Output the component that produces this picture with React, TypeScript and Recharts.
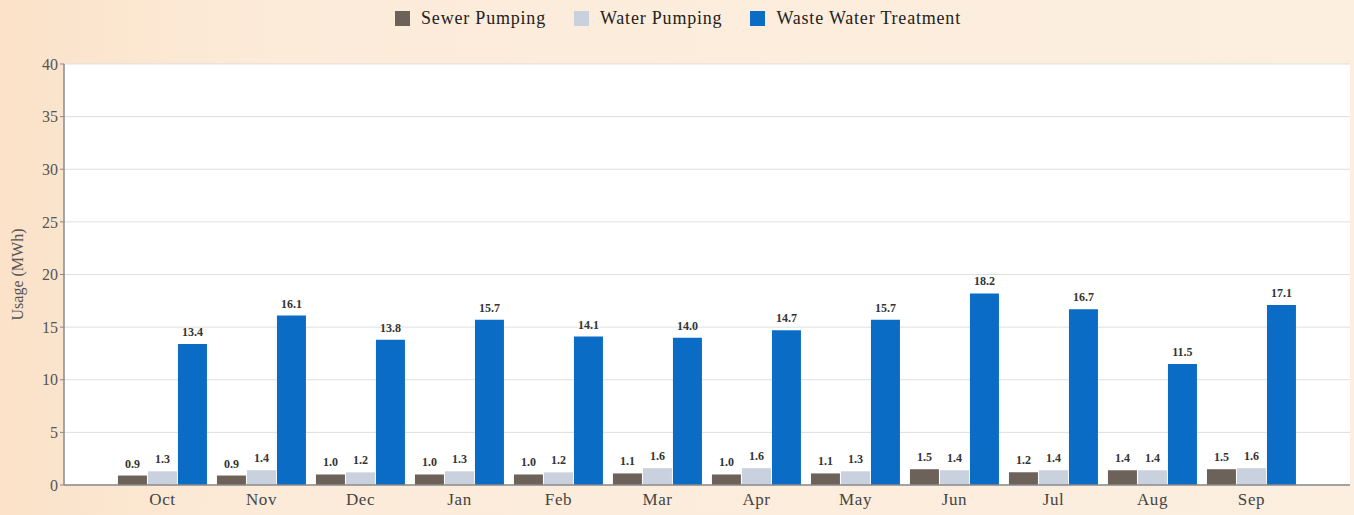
import { BarChart, Bar, XAxis, YAxis, CartesianGrid, Legend, LabelList } from 'recharts';

const months = ['Oct', 'Nov', 'Dec', 'Jan', 'Feb', 'Mar', 'Apr', 'May', 'Jun', 'Jul', 'Aug', 'Sep'];
const sewerPumping = [0.9, 0.9, 1.0, 1.0, 1.0, 1.1, 1.0, 1.1, 1.5, 1.2, 1.4, 1.5];
const waterPumping = [1.3, 1.4, 1.2, 1.3, 1.2, 1.6, 1.6, 1.3, 1.4, 1.4, 1.4, 1.6];
const wasteWater = [13.4, 16.1, 13.8, 15.7, 14.1, 14.0, 14.7, 15.7, 18.2, 16.7, 11.5, 17.1];
const yTicks = [0, 5, 10, 15, 20, 25, 30, 35, 40];

const SERIES = [
  { key: 'sewer', name: 'Sewer Pumping', color: '#6d6259' },
  { key: 'water', name: 'Water Pumping', color: '#c9d1de' },
  { key: 'waste', name: 'Waste Water Treatment', color: '#0b6cc6' },
];

const FONT = '"Liberation Serif", "DejaVu Serif", serif';

const data = months.map((m, i) => ({
  month: m,
  sewer: sewerPumping[i],
  water: waterPumping[i],
  waste: wasteWater[i],
}));

function LegendContent() {
  return (
    <div style={{ height: 64, display: 'flex', justifyContent: 'center', alignItems: 'flex-start', fontFamily: FONT }}>
      <div style={{ display: 'flex', gap: 28, paddingTop: 8, paddingLeft: 6 }}>
        {SERIES.map((s) => (
          <div key={s.key} style={{ display: 'flex', alignItems: 'center', fontFamily: FONT, fontSize: 18, letterSpacing: 0.8, color: '#222' }}>
            <span style={{ display: 'inline-block', width: 15, height: 15, background: s.color, marginRight: 11 }} />
            {s.name}
          </div>
        ))}
      </div>
    </div>
  );
}

const fmt = (v: any) => Number(v).toFixed(1);

export default function App() {
  return (
    <div style={{ position: 'absolute', left: 0, top: 0, width: 1354, height: 515, background: 'linear-gradient(90deg, #fbe2c9 0%, #fcebd9 20%, #fcefe0 100%)' }}>
      <BarChart
        width={1354}
        height={515}
        data={data}
        margin={{ top: 0, right: 4, bottom: 0, left: 0 }}
        barCategoryGap="5%"
        barGap={1}
      >
        <CartesianGrid vertical={false} stroke="#dcdfe3" fill="#ffffff" />
        <Legend verticalAlign="top" align="center" content={<LegendContent />} />
        <XAxis
          dataKey="month"
          padding={{ left: 49, right: 49 }}
          tickLine={false}
          axisLine={{ stroke: '#8a8a8a', strokeWidth: 1.5 }}
          tick={{ fontFamily: FONT, fontSize: 17, fill: '#444', letterSpacing: 0.6 }}
          height={30}
        />
        <YAxis
          domain={[0, 40]}
          ticks={yTicks}
          width={64}
          tickSize={4}
          tickLine={{ stroke: '#8a8a8a' }}
          axisLine={{ stroke: '#8a8a8a', strokeWidth: 1.5 }}
          tick={{ fontFamily: FONT, fontSize: 16, fill: '#555' }}
          label={{ value: 'Usage (MWh)', angle: -90, position: 'insideLeft', offset: 17, style: { fontFamily: FONT, fontSize: 16, fill: '#555', textAnchor: 'middle' } }}
        />
        {SERIES.map((s) => (
          <Bar key={s.key} dataKey={s.key} name={s.name} fill={s.color} isAnimationActive={false}>
            <LabelList dataKey={s.key} position="top" offset={8} formatter={fmt} style={{ fontFamily: FONT, fontSize: 12, fill: '#333', fontWeight: 'bold' }} />
          </Bar>
        ))}
      </BarChart>
    </div>
  );
}
